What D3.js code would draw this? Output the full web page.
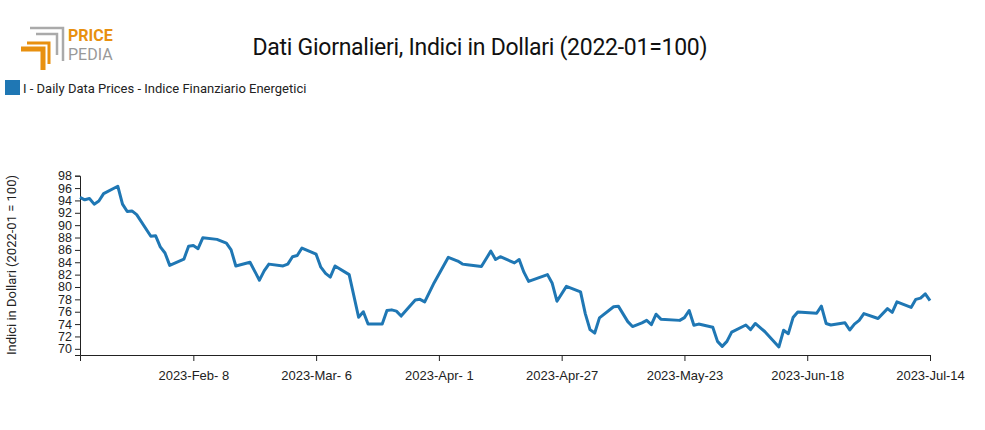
<!DOCTYPE html>
<html><head><meta charset="utf-8">
<script src="https://cdn.jsdelivr.net/npm/d3@7"></script>
<style>body{margin:0;background:#fff}svg{font-family:Roboto,"Liberation Sans Narrow",sans-serif}</style>
</head><body><svg id="c" width="985" height="430"></svg>
<script>
const dates=["2023-01-15","2023-01-16","2023-01-17","2023-01-18","2023-01-19","2023-01-20","2023-01-23","2023-01-24","2023-01-25","2023-01-26","2023-01-27","2023-01-30","2023-01-31","2023-02-01","2023-02-02","2023-02-03","2023-02-06","2023-02-07","2023-02-08","2023-02-09","2023-02-10","2023-02-13","2023-02-15","2023-02-16","2023-02-17","2023-02-20","2023-02-22","2023-02-23","2023-02-24","2023-02-27","2023-02-28","2023-03-01","2023-03-02","2023-03-03","2023-03-06","2023-03-07","2023-03-08","2023-03-09","2023-03-10","2023-03-13","2023-03-15","2023-03-16","2023-03-17","2023-03-20","2023-03-21","2023-03-22","2023-03-23","2023-03-24","2023-03-27","2023-03-28","2023-03-29","2023-03-31","2023-04-03","2023-04-05","2023-04-06","2023-04-07","2023-04-10","2023-04-12","2023-04-13","2023-04-14","2023-04-17","2023-04-18","2023-04-19","2023-04-20","2023-04-24","2023-04-25","2023-04-26","2023-04-28","2023-05-01","2023-05-02","2023-05-03","2023-05-04","2023-05-05","2023-05-08","2023-05-09","2023-05-11","2023-05-12","2023-05-14","2023-05-15","2023-05-16","2023-05-17","2023-05-18","2023-05-22","2023-05-23","2023-05-24","2023-05-25","2023-05-26","2023-05-29","2023-05-30","2023-05-31","2023-06-01","2023-06-02","2023-06-05","2023-06-06","2023-06-07","2023-06-09","2023-06-12","2023-06-13","2023-06-14","2023-06-15","2023-06-16","2023-06-20","2023-06-21","2023-06-22","2023-06-23","2023-06-26","2023-06-27","2023-06-28","2023-06-29","2023-06-30","2023-07-03","2023-07-05","2023-07-06","2023-07-07","2023-07-10","2023-07-11","2023-07-12","2023-07-13","2023-07-14"];
const values=[94.5,94.1,94.3,93.4,93.9,95.1,96.3,93.4,92.2,92.3,91.7,88.2,88.3,86.5,85.5,83.5,84.5,86.6,86.7,86.2,87.95,87.7,87.1,86.0,83.4,84.0,81.1,82.6,83.7,83.4,83.7,84.9,85.1,86.3,85.3,83.2,82.2,81.6,83.4,82.0,75.1,76.0,74.0,74.0,76.2,76.3,76.1,75.3,77.9,78.0,77.6,80.7,84.8,84.2,83.7,83.6,83.3,85.8,84.45,84.9,83.9,84.45,82.4,80.9,82.0,80.6,77.7,80.1,79.2,75.7,73.1,72.55,75.0,76.8,76.9,74.4,73.6,74.2,74.6,73.9,75.6,74.8,74.6,75.05,76.2,73.8,74.0,73.5,71.2,70.4,71.2,72.7,73.85,73.1,74.1,72.8,70.3,73.0,72.45,75.05,75.95,75.75,76.9,74.1,73.85,74.2,73.05,74.0,74.6,75.7,74.9,76.5,75.9,77.6,76.7,78.0,78.2,78.9,77.8];
const xTicks=["2023-02-08","2023-03-06","2023-04-01","2023-04-27","2023-05-23","2023-06-18","2023-07-14"];
const yTicks=d3.range(70,99,2);
const seriesName="I - Daily Data Prices - Indice Finanziario Energetici";
const title="Dati Giornalieri, Indici in Dollari (2022-01=100)";
const yLabel="Indici in Dollari (2022-01 = 100)";

const P=d3.timeParse("%Y-%m-%d");
const fmt=d3.timeFormat("%Y-%b-%e");
const data=dates.map((d,i)=>({d:P(d),v:values[i]}));
const svg=d3.select("#c");
const x=d3.scaleTime().domain([P("2023-01-15"),P("2023-07-14")]).range([80,930]);
const y=d3.scaleLinear().domain([69,98]).range([355,175.7]);

// logo
const g=svg.append("g");
g.append("path").attr("d","M30,28 H63 V61").attr("fill","none").attr("stroke","#aaa").attr("stroke-width",2.5);
g.append("path").attr("d","M36,34 H57 V55").attr("fill","none").attr("stroke","#aaa").attr("stroke-width",2.5);
g.append("path").attr("d","M21,49 H43 V70").attr("fill","none").attr("stroke","#e8900f").attr("stroke-width",5);
g.append("path").attr("d","M27,43 H49 V64").attr("fill","none").attr("stroke","#e8900f").attr("stroke-width",3);
g.append("text").attr("x",68).attr("y",41).attr("font-size",16).attr("font-weight","bold").attr("fill","#e8900f").text("PRICE");
g.append("text").attr("x",68).attr("y",60).attr("font-size",16).attr("fill","#999").text("PEDIA");

svg.append("text").attr("x",480).attr("y",55).attr("text-anchor","middle").attr("font-size",23).attr("fill","#111")
 .attr("textLength",455).text(title);
svg.append("rect").attr("x",5).attr("y",80).attr("width",15).attr("height",15).attr("fill","#1f77b4");
svg.append("text").attr("x",23).attr("y",93).attr("font-size",13).attr("fill","#222").text(seriesName);

svg.append("g").attr("transform","translate(0,355)")
 .call(d3.axisBottom(x).tickValues(xTicks.map(P)).tickFormat(fmt).tickSizeOuter(0).tickSize(6))
 .call(a=>a.selectAll("text").attr("font-size",13).attr("dy","1.2em").attr("fill","#222"))
 .call(a=>a.selectAll("line,path").attr("stroke","#222"));
svg.append("g").attr("transform","translate(80,0)")
 .call(d3.axisLeft(y).tickValues(yTicks).tickSizeOuter(0).tickSize(5))
 .call(a=>a.selectAll("text").attr("font-size",12.5).attr("fill","#222"))
 .call(a=>a.selectAll("line,path").attr("stroke","#222"));
svg.append("text").attr("transform","translate(16,265) rotate(-90)").attr("text-anchor","middle")
 .attr("font-size",13).attr("fill","#222").text(yLabel);

svg.append("path").datum(data).attr("fill","none").attr("stroke","#1f77b4").attr("stroke-width",3)
 .attr("stroke-linejoin","round")
 .attr("d",d3.line().x(d=>x(d.d)).y(d=>y(d.v)));
</script></body></html>
